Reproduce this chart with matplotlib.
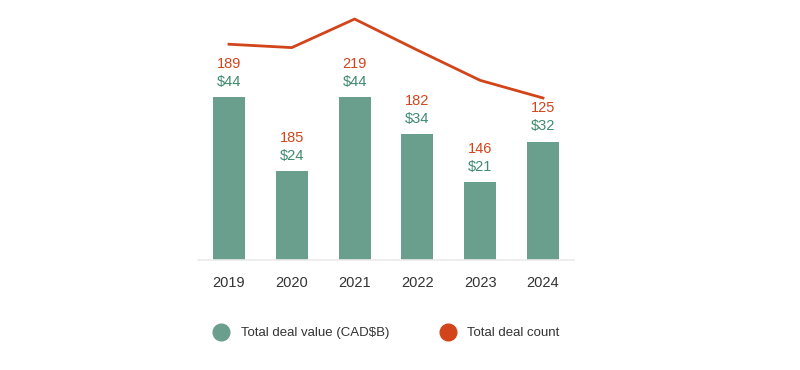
import matplotlib
matplotlib.use("Agg")
import matplotlib.pyplot as plt
from matplotlib.lines import Line2D

years = ["2019", "2020", "2021", "2022", "2023", "2024"]
deal_value = [44, 24, 44, 34, 21, 32]
deal_count = [189, 185, 219, 182, 146, 125]
value_labels = ["$44", "$24", "$44", "$34", "$21", "$32"]

GREEN = "#6a9e8d"
GREEN_TXT = "#3f8a6f"
ORANGE = "#d2441a"
GRAY = "#333333"

plt.rcParams['font.family'] = ['Liberation Sans', 'DejaVu Sans']

fig = plt.figure(figsize=(8, 3.7), dpi=100)
ax = fig.add_axes([197.6 / 800, 1 - 260 / 370, 376.8 / 800, 250 / 370])
x = list(range(len(years)))
ax.bar(x, deal_value, width=0.51, color=GREEN, zorder=2)
ax.set_xlim(-0.5, 5.5)
ax.set_ylim(0, 250 / 3.7)
for s in ["top", "right", "left"]:
    ax.spines[s].set_visible(False)
ax.spines["bottom"].set_color("#ebebeb")
ax.spines["bottom"].set_linewidth(1.2)
ax.set_yticks([])
ax.set_xticks(x)
ax.set_xticklabels(years, fontsize=10.5, color=GRAY)
ax.tick_params(axis="x", length=0, pad=11.5)

for xi, v, lab, c in zip(x, deal_value, value_labels, deal_count):
    ax.annotate(lab, (xi, v), xytext=(0, 11), textcoords="offset points",
                ha="center", va="center", fontsize=10.5, color=GREEN_TXT)
    ax.annotate(str(c), (xi, v), xytext=(0, 24), textcoords="offset points",
                ha="center", va="center", fontsize=10.5, color=ORANGE)

ax2 = ax.twinx()
ax2.plot(x, deal_count, color=ORANGE, lw=2, zorder=3)
ax2.set_ylim((203 - 260) / 0.84, (203 - 10) / 0.84)
ax2.set_axis_off()

handles = [
    Line2D([], [], marker="o", ls="", markersize=12, markerfacecolor=GREEN, markeredgecolor=GREEN),
    Line2D([], [], marker="o", ls="", markersize=12, markerfacecolor=ORANGE, markeredgecolor=ORANGE),
]
fig.legend(handles, ["Total deal value (CAD$B)", "Total deal count"],
           loc="center", bbox_to_anchor=(384 / 800, 1 - 333 / 370), ncol=2,
           frameon=False, fontsize=9.5, handletextpad=0.5, columnspacing=3.4,
           labelcolor=GRAY)

fig.savefig("out.png", dpi=100, facecolor="white")
